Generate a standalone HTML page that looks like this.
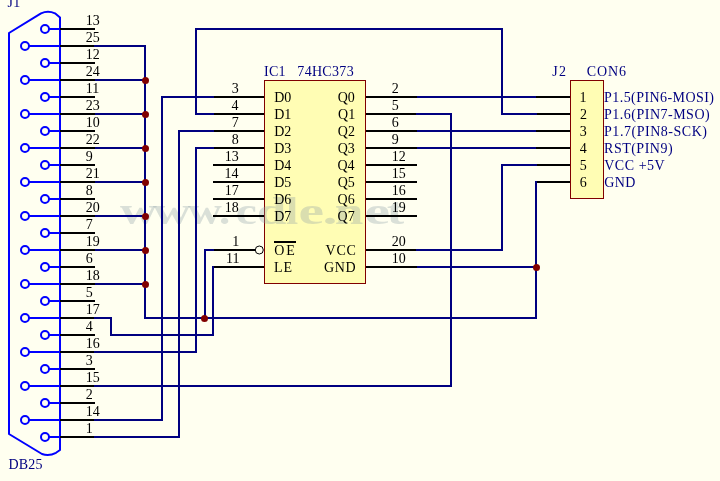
<!DOCTYPE html>
<html><head><meta charset="utf-8"><style>
html,body{margin:0;padding:0;background:#FFFFF0;}
svg{display:block;font-family:"Liberation Serif", serif;will-change:transform;}
</style></head><body>
<svg width="720" height="481" viewBox="0 0 720 481">
<rect width="720" height="481" fill="#FFFFF0"/>
<rect x="264.5" y="80.5" width="101" height="203" fill="#FFFDB4" stroke="#800000" stroke-width="1"/>
<rect x="570.5" y="80.5" width="33" height="118" fill="#FFFDB4" stroke="#800000" stroke-width="1"/>
<g font-size="38" font-weight="bold" fill="#8ea0a8" fill-opacity="0.33"><text transform="translate(120.00,223.5) scale(1.343,1)" x="0" y="0">w</text><text transform="translate(153.00,223.5) scale(1.379,1)" x="0" y="0">w</text><text transform="translate(188.00,223.5) scale(1.234,1)" x="0" y="0">w</text><text transform="translate(218.88,223.5) scale(1.184,1)" x="0" y="0">.</text><text transform="translate(235.81,223.5) scale(1.250,1)" x="0" y="0">c</text><text transform="translate(256.67,223.5) scale(1.404,1)" x="0" y="0">d</text><text transform="translate(285.90,223.5) scale(1.158,1)" x="0" y="0">l</text><text transform="translate(298.56,223.5) scale(1.513,1)" x="0" y="0">e</text><text transform="translate(322.50,223.5) scale(1.579,1)" x="0" y="0">.</text><text transform="translate(334.71,223.5) scale(1.353,1)" x="0" y="0">n</text><text transform="translate(364.56,223.5) scale(1.513,1)" x="0" y="0">e</text><text transform="translate(386.69,223.5) scale(1.377,1)" x="0" y="0">t</text></g>
<path d="M9,33 L41,13.3 Q48,10.3 55,13.3 L60,17.5 L60,450 L56,452.8 Q49,456.5 42,454 L9,434 Z" fill="none" stroke="#0000FF" stroke-width="2" stroke-linejoin="round"/>
<circle cx="45" cy="29" r="4" fill="none" stroke="#0000FF" stroke-width="2"/>
<line x1="49" y1="29" x2="60" y2="29" stroke="#0000FF" stroke-width="2"/>
<line x1="60" y1="29" x2="95" y2="29" stroke="#000" stroke-width="2"/>
<circle cx="25" cy="46" r="4" fill="none" stroke="#0000FF" stroke-width="2"/>
<line x1="29" y1="46" x2="60" y2="46" stroke="#0000FF" stroke-width="2"/>
<line x1="60" y1="46" x2="95" y2="46" stroke="#000" stroke-width="2"/>
<circle cx="45" cy="63" r="4" fill="none" stroke="#0000FF" stroke-width="2"/>
<line x1="49" y1="63" x2="60" y2="63" stroke="#0000FF" stroke-width="2"/>
<line x1="60" y1="63" x2="95" y2="63" stroke="#000" stroke-width="2"/>
<circle cx="25" cy="80" r="4" fill="none" stroke="#0000FF" stroke-width="2"/>
<line x1="29" y1="80" x2="60" y2="80" stroke="#0000FF" stroke-width="2"/>
<line x1="60" y1="80" x2="95" y2="80" stroke="#000" stroke-width="2"/>
<circle cx="45" cy="97" r="4" fill="none" stroke="#0000FF" stroke-width="2"/>
<line x1="49" y1="97" x2="60" y2="97" stroke="#0000FF" stroke-width="2"/>
<line x1="60" y1="97" x2="95" y2="97" stroke="#000" stroke-width="2"/>
<circle cx="25" cy="114" r="4" fill="none" stroke="#0000FF" stroke-width="2"/>
<line x1="29" y1="114" x2="60" y2="114" stroke="#0000FF" stroke-width="2"/>
<line x1="60" y1="114" x2="95" y2="114" stroke="#000" stroke-width="2"/>
<circle cx="45" cy="131" r="4" fill="none" stroke="#0000FF" stroke-width="2"/>
<line x1="49" y1="131" x2="60" y2="131" stroke="#0000FF" stroke-width="2"/>
<line x1="60" y1="131" x2="95" y2="131" stroke="#000" stroke-width="2"/>
<circle cx="25" cy="148" r="4" fill="none" stroke="#0000FF" stroke-width="2"/>
<line x1="29" y1="148" x2="60" y2="148" stroke="#0000FF" stroke-width="2"/>
<line x1="60" y1="148" x2="95" y2="148" stroke="#000" stroke-width="2"/>
<circle cx="45" cy="165" r="4" fill="none" stroke="#0000FF" stroke-width="2"/>
<line x1="49" y1="165" x2="60" y2="165" stroke="#0000FF" stroke-width="2"/>
<line x1="60" y1="165" x2="95" y2="165" stroke="#000" stroke-width="2"/>
<circle cx="25" cy="182" r="4" fill="none" stroke="#0000FF" stroke-width="2"/>
<line x1="29" y1="182" x2="60" y2="182" stroke="#0000FF" stroke-width="2"/>
<line x1="60" y1="182" x2="95" y2="182" stroke="#000" stroke-width="2"/>
<circle cx="45" cy="199" r="4" fill="none" stroke="#0000FF" stroke-width="2"/>
<line x1="49" y1="199" x2="60" y2="199" stroke="#0000FF" stroke-width="2"/>
<line x1="60" y1="199" x2="95" y2="199" stroke="#000" stroke-width="2"/>
<circle cx="25" cy="216" r="4" fill="none" stroke="#0000FF" stroke-width="2"/>
<line x1="29" y1="216" x2="60" y2="216" stroke="#0000FF" stroke-width="2"/>
<line x1="60" y1="216" x2="95" y2="216" stroke="#000" stroke-width="2"/>
<circle cx="45" cy="233" r="4" fill="none" stroke="#0000FF" stroke-width="2"/>
<line x1="49" y1="233" x2="60" y2="233" stroke="#0000FF" stroke-width="2"/>
<line x1="60" y1="233" x2="95" y2="233" stroke="#000" stroke-width="2"/>
<circle cx="25" cy="250" r="4" fill="none" stroke="#0000FF" stroke-width="2"/>
<line x1="29" y1="250" x2="60" y2="250" stroke="#0000FF" stroke-width="2"/>
<line x1="60" y1="250" x2="95" y2="250" stroke="#000" stroke-width="2"/>
<circle cx="45" cy="267" r="4" fill="none" stroke="#0000FF" stroke-width="2"/>
<line x1="49" y1="267" x2="60" y2="267" stroke="#0000FF" stroke-width="2"/>
<line x1="60" y1="267" x2="95" y2="267" stroke="#000" stroke-width="2"/>
<circle cx="25" cy="284" r="4" fill="none" stroke="#0000FF" stroke-width="2"/>
<line x1="29" y1="284" x2="60" y2="284" stroke="#0000FF" stroke-width="2"/>
<line x1="60" y1="284" x2="95" y2="284" stroke="#000" stroke-width="2"/>
<circle cx="45" cy="301" r="4" fill="none" stroke="#0000FF" stroke-width="2"/>
<line x1="49" y1="301" x2="60" y2="301" stroke="#0000FF" stroke-width="2"/>
<line x1="60" y1="301" x2="95" y2="301" stroke="#000" stroke-width="2"/>
<circle cx="25" cy="318" r="4" fill="none" stroke="#0000FF" stroke-width="2"/>
<line x1="29" y1="318" x2="60" y2="318" stroke="#0000FF" stroke-width="2"/>
<line x1="60" y1="318" x2="95" y2="318" stroke="#000" stroke-width="2"/>
<circle cx="45" cy="335" r="4" fill="none" stroke="#0000FF" stroke-width="2"/>
<line x1="49" y1="335" x2="60" y2="335" stroke="#0000FF" stroke-width="2"/>
<line x1="60" y1="335" x2="95" y2="335" stroke="#000" stroke-width="2"/>
<circle cx="25" cy="352" r="4" fill="none" stroke="#0000FF" stroke-width="2"/>
<line x1="29" y1="352" x2="60" y2="352" stroke="#0000FF" stroke-width="2"/>
<line x1="60" y1="352" x2="95" y2="352" stroke="#000" stroke-width="2"/>
<circle cx="45" cy="369" r="4" fill="none" stroke="#0000FF" stroke-width="2"/>
<line x1="49" y1="369" x2="60" y2="369" stroke="#0000FF" stroke-width="2"/>
<line x1="60" y1="369" x2="95" y2="369" stroke="#000" stroke-width="2"/>
<circle cx="25" cy="386" r="4" fill="none" stroke="#0000FF" stroke-width="2"/>
<line x1="29" y1="386" x2="60" y2="386" stroke="#0000FF" stroke-width="2"/>
<line x1="60" y1="386" x2="95" y2="386" stroke="#000" stroke-width="2"/>
<circle cx="45" cy="403" r="4" fill="none" stroke="#0000FF" stroke-width="2"/>
<line x1="49" y1="403" x2="60" y2="403" stroke="#0000FF" stroke-width="2"/>
<line x1="60" y1="403" x2="95" y2="403" stroke="#000" stroke-width="2"/>
<circle cx="25" cy="420" r="4" fill="none" stroke="#0000FF" stroke-width="2"/>
<line x1="29" y1="420" x2="60" y2="420" stroke="#0000FF" stroke-width="2"/>
<line x1="60" y1="420" x2="95" y2="420" stroke="#000" stroke-width="2"/>
<circle cx="45" cy="437" r="4" fill="none" stroke="#0000FF" stroke-width="2"/>
<line x1="49" y1="437" x2="60" y2="437" stroke="#0000FF" stroke-width="2"/>
<line x1="60" y1="437" x2="95" y2="437" stroke="#000" stroke-width="2"/>
<line x1="213" y1="97" x2="264" y2="97" stroke="#000" stroke-width="2"/>
<line x1="213" y1="114" x2="264" y2="114" stroke="#000" stroke-width="2"/>
<line x1="213" y1="131" x2="264" y2="131" stroke="#000" stroke-width="2"/>
<line x1="213" y1="148" x2="264" y2="148" stroke="#000" stroke-width="2"/>
<line x1="213" y1="165" x2="264" y2="165" stroke="#000" stroke-width="2"/>
<line x1="213" y1="182" x2="264" y2="182" stroke="#000" stroke-width="2"/>
<line x1="213" y1="199" x2="264" y2="199" stroke="#000" stroke-width="2"/>
<line x1="213" y1="216" x2="264" y2="216" stroke="#000" stroke-width="2"/>
<line x1="366" y1="97" x2="417" y2="97" stroke="#000" stroke-width="2"/>
<line x1="366" y1="114" x2="417" y2="114" stroke="#000" stroke-width="2"/>
<line x1="366" y1="131" x2="417" y2="131" stroke="#000" stroke-width="2"/>
<line x1="366" y1="148" x2="417" y2="148" stroke="#000" stroke-width="2"/>
<line x1="366" y1="165" x2="417" y2="165" stroke="#000" stroke-width="2"/>
<line x1="366" y1="182" x2="417" y2="182" stroke="#000" stroke-width="2"/>
<line x1="366" y1="199" x2="417" y2="199" stroke="#000" stroke-width="2"/>
<line x1="366" y1="216" x2="417" y2="216" stroke="#000" stroke-width="2"/>
<line x1="213" y1="250" x2="255" y2="250" stroke="#000" stroke-width="2"/>
<circle cx="259.3" cy="250" r="4" fill="none" stroke="#000" stroke-width="1"/>
<line x1="274" y1="242" x2="296" y2="242" stroke="#000" stroke-width="2"/>
<line x1="213" y1="267" x2="264" y2="267" stroke="#000" stroke-width="2"/>
<line x1="366" y1="250" x2="417" y2="250" stroke="#000" stroke-width="2"/>
<line x1="366" y1="267" x2="417" y2="267" stroke="#000" stroke-width="2"/>
<line x1="536" y1="97" x2="570" y2="97" stroke="#000" stroke-width="2"/>
<line x1="536" y1="114" x2="570" y2="114" stroke="#000" stroke-width="2"/>
<line x1="536" y1="131" x2="570" y2="131" stroke="#000" stroke-width="2"/>
<line x1="536" y1="148" x2="570" y2="148" stroke="#000" stroke-width="2"/>
<line x1="536" y1="165" x2="570" y2="165" stroke="#000" stroke-width="2"/>
<line x1="536" y1="182" x2="570" y2="182" stroke="#000" stroke-width="2"/>
<polyline points="95,46 145,46 145,318 536,318 536,182" fill="none" stroke="#000080" stroke-width="2" stroke-linecap="square"/>
<line x1="95" y1="80" x2="145" y2="80" stroke="#000080" stroke-width="2"/>
<circle cx="145.5" cy="80.5" r="3.5" fill="#800000"/>
<line x1="95" y1="114" x2="145" y2="114" stroke="#000080" stroke-width="2"/>
<circle cx="145.5" cy="114.5" r="3.5" fill="#800000"/>
<line x1="95" y1="148" x2="145" y2="148" stroke="#000080" stroke-width="2"/>
<circle cx="145.5" cy="148.5" r="3.5" fill="#800000"/>
<line x1="95" y1="182" x2="145" y2="182" stroke="#000080" stroke-width="2"/>
<circle cx="145.5" cy="182.5" r="3.5" fill="#800000"/>
<line x1="95" y1="216" x2="145" y2="216" stroke="#000080" stroke-width="2"/>
<circle cx="145.5" cy="216.5" r="3.5" fill="#800000"/>
<line x1="95" y1="250" x2="145" y2="250" stroke="#000080" stroke-width="2"/>
<circle cx="145.5" cy="250.5" r="3.5" fill="#800000"/>
<line x1="95" y1="284" x2="145" y2="284" stroke="#000080" stroke-width="2"/>
<circle cx="145.5" cy="284.5" r="3.5" fill="#800000"/>
<polyline points="417,114 451,114 451,386 95,386" fill="none" stroke="#000080" stroke-width="2" stroke-linecap="square"/>
<polyline points="213,97 162,97 162,420 95,420" fill="none" stroke="#000080" stroke-width="2" stroke-linecap="square"/>
<polyline points="213,131 179,131 179,437 95,437" fill="none" stroke="#000080" stroke-width="2" stroke-linecap="square"/>
<polyline points="213,148 196,148 196,352 95,352" fill="none" stroke="#000080" stroke-width="2" stroke-linecap="square"/>
<polyline points="213,114 196,114 196,29 502,29 502,114 536,114" fill="none" stroke="#000080" stroke-width="2" stroke-linecap="square"/>
<line x1="417" y1="97" x2="536" y2="97" stroke="#000080" stroke-width="2"/>
<line x1="417" y1="131" x2="536" y2="131" stroke="#000080" stroke-width="2"/>
<line x1="417" y1="148" x2="536" y2="148" stroke="#000080" stroke-width="2"/>
<polyline points="417,250 502,250 502,165 536,165" fill="none" stroke="#000080" stroke-width="2" stroke-linecap="square"/>
<line x1="417" y1="267" x2="536" y2="267" stroke="#000080" stroke-width="2"/>
<circle cx="536.5" cy="267.5" r="3.5" fill="#800000"/>
<polyline points="213,250 205,250 205,318" fill="none" stroke="#000080" stroke-width="2" stroke-linecap="square"/>
<circle cx="204.5" cy="318.5" r="3.5" fill="#800000"/>
<polyline points="213,267 213,335 111,335 111,318 95,318" fill="none" stroke="#000080" stroke-width="2" stroke-linecap="square"/>
<text x="85.70" y="25" fill="#000" font-size="14" letter-spacing="0.000">13</text>
<text x="85.70" y="42" fill="#000" font-size="14" letter-spacing="0.000">25</text>
<text x="85.70" y="59" fill="#000" font-size="14" letter-spacing="0.000">12</text>
<text x="85.70" y="76" fill="#000" font-size="14" letter-spacing="0.000">24</text>
<text x="85.70" y="93" fill="#000" font-size="14" letter-spacing="0.000">11</text>
<text x="85.70" y="110" fill="#000" font-size="14" letter-spacing="0.000">23</text>
<text x="85.70" y="127" fill="#000" font-size="14" letter-spacing="0.000">10</text>
<text x="85.70" y="144" fill="#000" font-size="14" letter-spacing="0.000">22</text>
<text x="85.70" y="161" fill="#000" font-size="14" letter-spacing="0.000">9</text>
<text x="85.70" y="178" fill="#000" font-size="14" letter-spacing="0.000">21</text>
<text x="85.70" y="195" fill="#000" font-size="14" letter-spacing="0.000">8</text>
<text x="85.70" y="212" fill="#000" font-size="14" letter-spacing="0.000">20</text>
<text x="85.70" y="229" fill="#000" font-size="14" letter-spacing="0.000">7</text>
<text x="85.70" y="246" fill="#000" font-size="14" letter-spacing="0.000">19</text>
<text x="85.70" y="263" fill="#000" font-size="14" letter-spacing="0.000">6</text>
<text x="85.70" y="280" fill="#000" font-size="14" letter-spacing="0.000">18</text>
<text x="85.70" y="297" fill="#000" font-size="14" letter-spacing="0.000">5</text>
<text x="85.70" y="314" fill="#000" font-size="14" letter-spacing="0.000">17</text>
<text x="85.70" y="331" fill="#000" font-size="14" letter-spacing="0.000">4</text>
<text x="85.70" y="348" fill="#000" font-size="14" letter-spacing="0.000">16</text>
<text x="85.70" y="365" fill="#000" font-size="14" letter-spacing="0.000">3</text>
<text x="85.70" y="382" fill="#000" font-size="14" letter-spacing="0.000">15</text>
<text x="85.70" y="399" fill="#000" font-size="14" letter-spacing="0.000">2</text>
<text x="85.70" y="416" fill="#000" font-size="14" letter-spacing="0.000">14</text>
<text x="85.70" y="433" fill="#000" font-size="14" letter-spacing="0.000">1</text>
<text x="7.45" y="7" fill="#000080" font-size="14" letter-spacing="0.414">J1</text>
<text x="8.45" y="469" fill="#000080" font-size="14" letter-spacing="0.244">DB25</text>
<text x="231.85" y="93" fill="#000" font-size="14" letter-spacing="0.000">3</text>
<text x="274.25" y="102" fill="#000" font-size="14" letter-spacing="0.000">D0</text>
<text x="231.49" y="110" fill="#000" font-size="14" letter-spacing="0.000">4</text>
<text x="274.25" y="119" fill="#000" font-size="14" letter-spacing="0.000">D1</text>
<text x="231.69" y="127" fill="#000" font-size="14" letter-spacing="0.000">7</text>
<text x="274.25" y="136" fill="#000" font-size="14" letter-spacing="0.000">D2</text>
<text x="231.80" y="144" fill="#000" font-size="14" letter-spacing="0.000">8</text>
<text x="274.25" y="153" fill="#000" font-size="14" letter-spacing="0.000">D3</text>
<text x="224.85" y="161" fill="#000" font-size="14" letter-spacing="0.000">13</text>
<text x="274.25" y="170" fill="#000" font-size="14" letter-spacing="0.000">D4</text>
<text x="224.49" y="178" fill="#000" font-size="14" letter-spacing="0.000">14</text>
<text x="274.25" y="187" fill="#000" font-size="14" letter-spacing="0.000">D5</text>
<text x="224.69" y="195" fill="#000" font-size="14" letter-spacing="0.000">17</text>
<text x="274.25" y="204" fill="#000" font-size="14" letter-spacing="0.000">D6</text>
<text x="224.80" y="212" fill="#000" font-size="14" letter-spacing="0.000">18</text>
<text x="274.25" y="221" fill="#000" font-size="14" letter-spacing="0.000">D7</text>
<text x="391.70" y="93" fill="#000" font-size="14" letter-spacing="0.000">2</text>
<text x="337.70" y="102" fill="#000" font-size="14" letter-spacing="0.000">Q0</text>
<text x="391.70" y="110" fill="#000" font-size="14" letter-spacing="0.000">5</text>
<text x="338.07" y="119" fill="#000" font-size="14" letter-spacing="0.000">Q1</text>
<text x="391.70" y="127" fill="#000" font-size="14" letter-spacing="0.000">6</text>
<text x="337.87" y="136" fill="#000" font-size="14" letter-spacing="0.000">Q2</text>
<text x="391.70" y="144" fill="#000" font-size="14" letter-spacing="0.000">9</text>
<text x="337.75" y="153" fill="#000" font-size="14" letter-spacing="0.000">Q3</text>
<text x="391.70" y="161" fill="#000" font-size="14" letter-spacing="0.000">12</text>
<text x="337.39" y="170" fill="#000" font-size="14" letter-spacing="0.000">Q4</text>
<text x="391.70" y="178" fill="#000" font-size="14" letter-spacing="0.000">15</text>
<text x="337.75" y="187" fill="#000" font-size="14" letter-spacing="0.000">Q5</text>
<text x="391.70" y="195" fill="#000" font-size="14" letter-spacing="0.000">16</text>
<text x="337.60" y="204" fill="#000" font-size="14" letter-spacing="0.000">Q6</text>
<text x="391.70" y="212" fill="#000" font-size="14" letter-spacing="0.000">19</text>
<text x="337.59" y="221" fill="#000" font-size="14" letter-spacing="0.000">Q7</text>
<text x="232.17" y="246" fill="#000" font-size="14" letter-spacing="0.000">1</text>
<text x="274.17" y="255" fill="#000" font-size="14" letter-spacing="1.994">OE</text>
<text x="225.97" y="263" fill="#000" font-size="14" letter-spacing="0.000">11</text>
<text x="273.95" y="272" fill="#000" font-size="14" letter-spacing="1.092">LE</text>
<text x="391.70" y="246" fill="#000" font-size="14" letter-spacing="0.000">20</text>
<text x="325.48" y="255" fill="#000" font-size="14" letter-spacing="0.820">VCC</text>
<text x="391.70" y="263" fill="#000" font-size="14" letter-spacing="0.000">10</text>
<text x="324.07" y="272" fill="#000" font-size="14" letter-spacing="0.570">GND</text>
<text x="264.12" y="76" fill="#000080" font-size="14" letter-spacing="0.222">IC1</text>
<text x="297.35" y="76" fill="#000080" font-size="14" letter-spacing="0.306">74HC373</text>
<text x="579.50" y="102" fill="#000" font-size="14" letter-spacing="0.000">1</text>
<text x="604.05" y="102" fill="#000080" font-size="14" letter-spacing="0.433">P1.5(PIN6-MOSI)</text>
<text x="579.92" y="119" fill="#000" font-size="14" letter-spacing="0.000">2</text>
<text x="604.05" y="119" fill="#000080" font-size="14" letter-spacing="0.495">P1.6(PIN7-MSO)</text>
<text x="579.80" y="136" fill="#000" font-size="14" letter-spacing="0.000">3</text>
<text x="604.05" y="136" fill="#000080" font-size="14" letter-spacing="0.526">P1.7(PIN8-SCK)</text>
<text x="579.82" y="153" fill="#000" font-size="14" letter-spacing="0.000">4</text>
<text x="604.05" y="153" fill="#000080" font-size="14" letter-spacing="0.495">RST(PIN9)</text>
<text x="579.76" y="170" fill="#000" font-size="14" letter-spacing="0.000">5</text>
<text x="604.18" y="170" fill="#000080" font-size="14" letter-spacing="0.543">VCC +5V</text>
<text x="579.77" y="187" fill="#000" font-size="14" letter-spacing="0.000">6</text>
<text x="604.17" y="187" fill="#000080" font-size="14" letter-spacing="0.470">GND</text>
<text x="552.30" y="76" fill="#000080" font-size="14" letter-spacing="1.167">J2</text>
<text x="586.87" y="76" fill="#000080" font-size="14" letter-spacing="0.849">CON6</text>
</svg>
</body></html>
